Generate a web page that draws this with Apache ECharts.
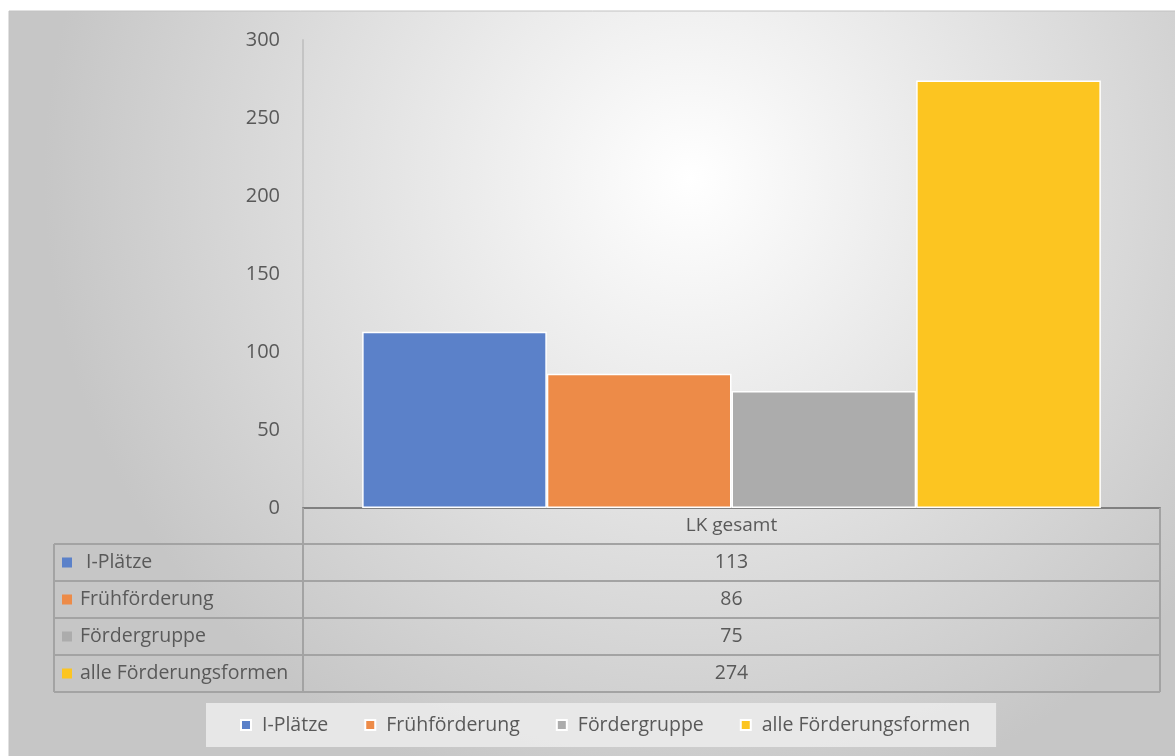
<!DOCTYPE html>
<html>
<head>
<meta charset="utf-8">
<script src="https://cdn.jsdelivr.net/npm/echarts@6/dist/echarts.min.js"></script>
<style>
  html, body { margin: 0; padding: 0; background: #fff; }
  #chart { width: 1175px; height: 756px; }
</style>
</head>
<body>
<div id="chart"></div>
<script>
  const categories = ['LK gesamt'];
  const seriesNames = ['I-Plätze', 'Frühförderung', 'Fördergruppe', 'alle Förderungsformen'];
  const iPlaetze = [113];
  const fruehfoerderung = [86];
  const foerdergruppe = [75];
  const alleFormen = [274];
  const yTicks = [0, 50, 100, 150, 200, 250, 300];

  const seriesValues = [iPlaetze, fruehfoerderung, foerdergruppe, alleFormen];
  const colors = ['#5b81c9', '#ed8b48', '#acacac', '#fcc521'];
  const font = '"Open Sans", "Noto Sans", sans-serif';
  const textColor = '#595959';
  const lineColor = '#a3a3a3';

  // plot / table geometry
  const plotLeft = 303, plotRight = 1160, plotTop = 40, plotBottom = 508;
  const tableLeft = 54, rowH = 37, headH = 36;

  const graphic = [];
  // background panel
  graphic.push({
    type: 'rect', z: -10, silent: true,
    shape: { x: 9, y: 11, width: 1175, height: 760 },
    style: {
      fill: {
        type: 'radial', x: 0.58, y: 0.22, r: 0.85,
        colorStops: [{ offset: 0, color: '#ffffff' }, { offset: 1, color: '#c6c6c6' }]
      },
      stroke: '#c2c2c2', lineWidth: 1
    }
  });

  const rowsTop = plotBottom + headH;
  const tableBottom = rowsTop + rowH * seriesNames.length;
  const line = (x1, y1, x2, y2) => ({
    type: 'line', silent: true, z: 5,
    shape: { x1, y1, x2, y2 },
    style: { stroke: lineColor, lineWidth: 2 }
  });
  graphic.push(line(plotLeft, plotBottom, plotLeft, tableBottom));
  graphic.push(line(plotRight, plotBottom, plotRight, tableBottom));
  graphic.push(line(tableLeft, rowsTop, tableLeft, tableBottom));
  for (let i = 0; i <= seriesNames.length; i++) {
    const y = rowsTop + rowH * i;
    graphic.push(line(tableLeft, y, plotRight, y));
  }
  seriesNames.forEach((name, i) => {
    const cy = rowsTop + rowH * i + rowH / 2;
    graphic.push({
      type: 'rect', silent: true, z: 6,
      shape: { x: tableLeft + 8, y: cy - 5, width: 10, height: 10 },
      style: { fill: colors[i] }
    });
    graphic.push({
      type: 'text', silent: true, z: 6,
      x: tableLeft + (i === 0 ? 32 : 26), y: cy,
      style: { text: name, fill: textColor, font: '19.5px ' + font, verticalAlign: 'middle' }
    });
    graphic.push({
      type: 'text', silent: true, z: 6,
      x: (plotLeft + plotRight) / 2, y: cy,
      style: { text: String(seriesValues[i][0]), fill: textColor, font: '19.5px ' + font,
               align: 'center', verticalAlign: 'middle' }
    });
  });

  const chart = echarts.init(document.getElementById('chart'));
  chart.setOption({
    animation: false,
    color: colors,
    textStyle: { fontFamily: font },
    grid: { left: plotLeft, right: 1175 - plotRight, top: plotTop, bottom: 756 - plotBottom },
    legend: {
      data: seriesNames,
      bottom: 9,
      left: 206,
      icon: 'rect',
      itemWidth: 10,
      itemHeight: 10,
      itemGap: 36,
      padding: [12, 26, 12, 34],
      backgroundColor: 'rgba(236,236,236,0.85)',
      textStyle: { color: textColor, fontSize: 19.5, fontFamily: font, padding: [0, 0, 0, 6] }
    },
    xAxis: {
      type: 'category',
      data: categories,
      axisTick: { show: false },
      axisLine: { lineStyle: { color: '#808080', width: 2 } },
      axisLabel: { color: textColor, fontSize: 19, margin: 8, fontFamily: font }
    },
    yAxis: {
      type: 'value',
      min: yTicks[0],
      max: yTicks[yTicks.length - 1],
      interval: yTicks[1] - yTicks[0],
      axisLine: { show: true, lineStyle: { color: '#c4c4c4', width: 2 } },
      axisTick: { show: false },
      splitLine: { show: false },
      axisLabel: { color: textColor, fontSize: 20, margin: 23, fontFamily: font }
    },
    series: seriesNames.map((name, i) => ({
      name,
      type: 'bar',
      data: seriesValues[i],
      barGap: '0%',
      barCategoryGap: '13.8%',
      itemStyle: { borderColor: '#ffffff', borderWidth: 1.5 }
    })),
    graphic
  });
</script>
</body>
</html>
